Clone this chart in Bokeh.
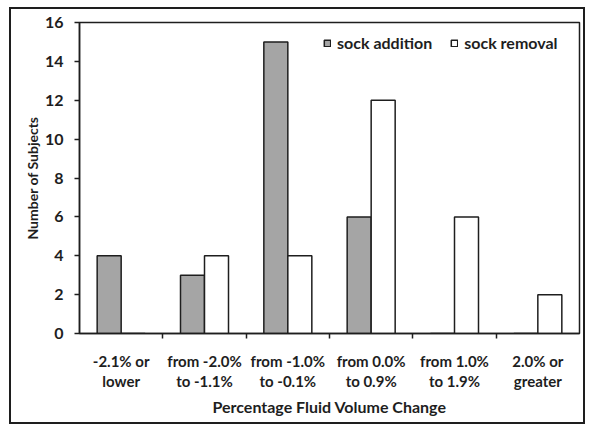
import numpy as np
from bokeh.plotting import figure
from bokeh.models import (Range1d, LinearAxis, FixedTicker, ColumnDataSource, Legend, LegendItem)
from bokeh.transform import dodge
from bokeh.embed import file_html
from bokeh.resources import INLINE

categories = ["-2.1% or\nlower", "from -2.0%\nto -1.1%", "from -1.0%\nto -0.1%",
              "from 0.0%\nto 0.9%", "from 1.0%\nto 1.9%", "2.0% or\ngreater"]
sock_addition = [4, 3, 15, 6, 0, 0]
sock_removal = [0, 4, 4, 12, 6, 2]
y_ticks = [0, 2, 4, 6, 8, 10, 12, 14, 16]

FONT = "Lato"
DARK = "#1e1e1e"
BAR_W = 0.288

n = len(categories)
centers = np.arange(n) + 0.5
boundaries = list(range(1, n))

src = ColumnDataSource(dict(xc=centers, add=sock_addition, rem=sock_removal))

p = figure(x_range=Range1d(0, n), y_range=Range1d(0, 16),
           width=576, height=417,
           min_border_left=68, min_border_top=13, min_border_right=8, min_border_bottom=93,
           output_backend="svg", toolbar_location=None, x_axis_location=None)
p.styles = {"border": f"2px solid {DARK}", "margin-left": "9px", "margin-top": "7px"}

p.xgrid.visible = False
p.ygrid.visible = False
p.outline_line_color = DARK
p.outline_line_width = 1.5
p.background_fill_color = "white"
p.border_fill_color = "white"

# category axis: labels at category centres, tick marks between categories
xa = LinearAxis(ticker=FixedTicker(ticks=list(centers), minor_ticks=boundaries))
xa.major_label_overrides = {float(c): lab for c, lab in zip(centers, categories)}
xa.axis_line_color = DARK
xa.axis_line_width = 1.5
xa.major_tick_line_color = None
xa.minor_tick_line_color = DARK
xa.minor_tick_line_width = 1.5
xa.minor_tick_out = 5
xa.minor_tick_in = 0
xa.major_tick_out = 0
xa.major_tick_in = 0
xa.major_label_text_font = FONT
xa.major_label_text_font_style = "bold"
xa.major_label_text_font_size = "15px"
xa.major_label_text_color = DARK
xa.major_label_standoff = 13
xa.major_label_text_line_height = 1.15
xa.axis_label = "Percentage Fluid Volume Change"
xa.axis_label_text_font = FONT
xa.axis_label_text_font_style = "bold"
xa.axis_label_text_font_size = "16px"
xa.axis_label_text_color = DARK
xa.axis_label_standoff = 4
p.add_layout(xa, "below")

ya = p.yaxis[0]
ya.ticker = FixedTicker(ticks=y_ticks)
ya.axis_line_color = DARK
ya.axis_line_width = 1.5
ya.major_tick_line_color = DARK
ya.major_tick_line_width = 1.5
ya.major_tick_out = 5
ya.major_tick_in = 0
ya.minor_tick_line_color = None
ya.major_label_text_font = FONT
ya.major_label_text_font_style = "bold"
ya.major_label_text_font_size = "16px"
ya.major_label_text_color = DARK
ya.major_label_standoff = 11
ya.axis_label = "Number of Subjects"
ya.axis_label_text_font = FONT
ya.axis_label_text_font_style = "bold"
ya.axis_label_text_font_size = "14px"
ya.axis_label_text_color = DARK
ya.axis_label_standoff = 1

r1 = p.vbar(x=dodge("xc", -BAR_W / 2), top="add", width=BAR_W, source=src,
            fill_color="#a5a5a5", line_color=DARK, line_width=1.5)
r2 = p.vbar(x=dodge("xc", BAR_W / 2), top="rem", width=BAR_W, source=src,
            fill_color="white", line_color=DARK, line_width=1.5)

legend = Legend(items=[LegendItem(label="sock addition", renderers=[r1]),
                       LegendItem(label="sock removal", renderers=[r2])],
                location=(244, 281), orientation="horizontal")
legend.glyph_width = 8
legend.glyph_height = 8
legend.label_text_font = FONT
legend.label_text_font_style = "bold"
legend.label_text_font_size = "16px"
legend.label_text_color = DARK
legend.label_standoff = 6
legend.spacing = 18
legend.padding = 0
legend.margin = 0
legend.border_line_color = None
legend.background_fill_alpha = 0
p.add_layout(legend, "center")

open("out.html", "w").write(file_html(p, INLINE))
